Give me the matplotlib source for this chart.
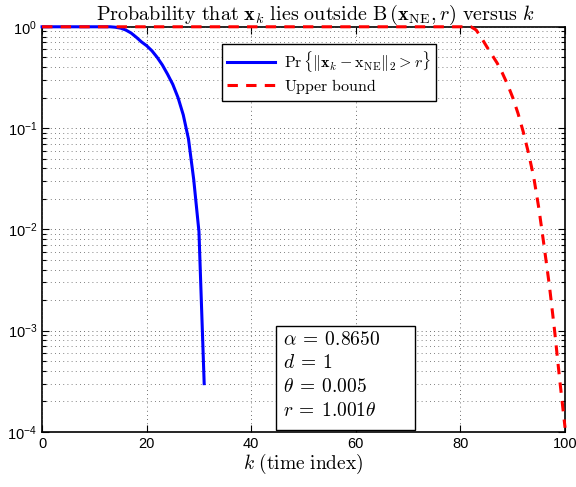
import numpy as np
import matplotlib
matplotlib.use("Agg")
import matplotlib.pyplot as plt
from matplotlib.patches import Rectangle
from matplotlib.ticker import LogLocator, NullFormatter

# values
k_emp = list(range(0, 32))
p_emp = [1.0] * 14 + [0.99, 0.97, 0.93, 0.87, 0.79, 0.71, 0.65, 0.58, 0.50,
                      0.42, 0.34, 0.27, 0.20, 0.135, 0.078, 0.031, 0.0095, 0.0003]

k_bound = list(range(0, 101))
p_bound = [1.0] * 83 + [0.93, 0.78, 0.64, 0.53, 0.44, 0.35, 0.27, 0.20, 0.14,
                        0.092, 0.057, 0.033, 0.016, 0.0068, 0.0028, 0.0010,
                        0.00032, 0.00011]

params = [r"$\alpha\:=\:0.8650$", r"$d\:=\:1$", r"$\theta\:=\:0.005$", r"$r\:=\:1.001\theta$"]

plt.rcParams["mathtext.fontset"] = "cm"
plt.rcParams["font.family"] = ["Liberation Sans", "DejaVu Sans"]

fig = plt.figure(figsize=(5.76, 4.87), dpi=100)
ax = fig.add_axes([0.073, 0.113, 0.908, 0.832])

ax.semilogy(k_emp, p_emp, color="blue", lw=2.2, clip_on=False,
            label=r"$\mathrm{Pr}\,\{\Vert\mathbf{x}_k - \mathrm{x}_{\mathrm{NE}}\Vert_2 > r\}$")
ax.semilogy(k_bound, p_bound, color="red", lw=2.2, linestyle=(0, (3.4, 2.7)), clip_on=False,
            label=r"$\mathrm{Upper\ bound}$")

ax.set_xlim(0, 100)
ax.set_ylim(1e-4, 1)
ax.set_xticks([0, 20, 40, 60, 80, 100])
ax.yaxis.set_major_locator(LogLocator(base=10, numticks=10))
ax.yaxis.set_minor_locator(LogLocator(base=10, subs=np.arange(2, 10), numticks=20))
ax.yaxis.set_minor_formatter(NullFormatter())

ax.grid(True, which="major", axis="both", color="0.25", linestyle=(0, (1, 4)), lw=0.6)
ax.grid(True, which="minor", axis="y", color="0.35", linestyle=(0, (1, 4)), lw=0.6)
ax.tick_params(which="both", direction="in", top=True, right=True, labelsize=10.5, width=0.8)
ax.tick_params(which="major", length=5)
ax.tick_params(which="minor", length=3)
for s in ax.spines.values():
    s.set_linewidth(1.2)
    s.set_zorder(1)

ax.set_title(r"$\mathrm{Probability\ that\ }\mathbf{x}_k\mathrm{\ lies\ outside\ B}\,(\mathbf{x}_{\mathrm{NE}}, r)\mathrm{\ versus\ }k$",
             fontsize=14.5, pad=3, x=0.522)
ax.set_xlabel(r"$k\ \mathrm{(time\ index)}$", fontsize=14, labelpad=1)

leg = ax.legend(loc="upper left", bbox_to_anchor=(0.344, 0.958), fontsize=11.5,
                fancybox=False, framealpha=1, edgecolor="black", handlelength=3.0,
                borderpad=0.3, labelspacing=0.2, handletextpad=0.6, borderaxespad=0)
leg.get_frame().set_linewidth(1.0)
leg.set_zorder(7)

# parameter box
ax.add_patch(Rectangle((0.447, 0.004), 0.266, 0.257, transform=ax.transAxes,
                       facecolor="white", edgecolor="black", lw=1.0, zorder=5))
ax.text(0.46, 0.14, "\n".join(params), transform=ax.transAxes, fontsize=14,
        va="center", ha="left", linespacing=1.4, zorder=6)

fig.savefig("out.png", dpi=100)
